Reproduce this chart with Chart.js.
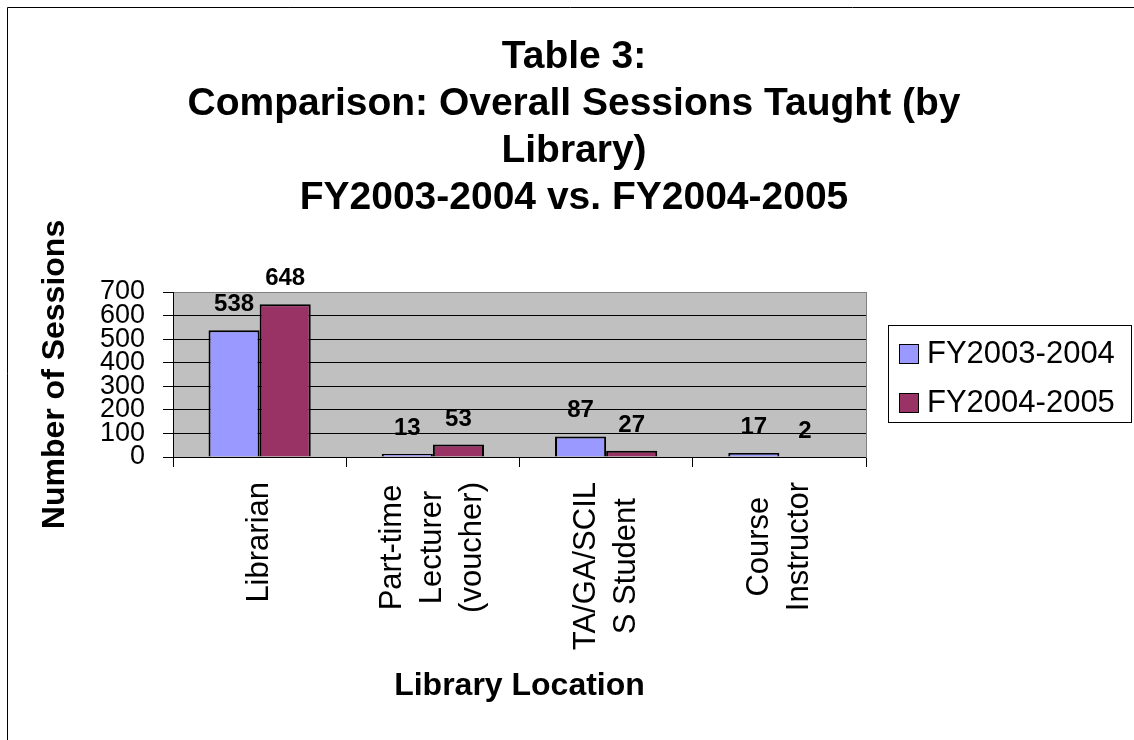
<!DOCTYPE html>
<html lang="en">
<head>
    <meta charset="UTF-8">
    <title>Table 3: Comparison: Overall Sessions Taught</title>
    <script src="https://cdn.jsdelivr.net/npm/chart.js@4.4.1/dist/chart.umd.min.js"></script>
    <style>
        body {
            margin: 0;
            background: #fff;
            font-family: "Liberation Sans", Arial, sans-serif;
        }
        #wrap {
            position: relative;
            width: 1134px;
            height: 740px;
        }
        #legend {
            position: absolute;
            left: 888px;
            top: 325px;
            width: 244px;
            height: 98px;
            box-sizing: border-box;
            border: 1px solid #000;
            padding: 7px 0 0 10px;
        }
        #legend .item {
            height: 40px;
            line-height: 40px;
            margin-bottom: 9px;
            font-size: 31px;
            color: #000;
            white-space: nowrap;
        }
        #legend .swatch {
            display: inline-block;
            width: 20px;
            height: 20px;
            box-sizing: border-box;
            border: 1px solid #000;
            margin-right: 8px;
            vertical-align: -1px;
        }
    </style>
</head>
<body>
<div id="wrap">
    <canvas id="chart" width="1134" height="740"></canvas>
    <div id="legend"></div>
</div>

<script>
    // chart data
    const categories = [
        ['Librarian'],
        ['Part-time', 'Lecturer', '(voucher)'],
        ['TA/GA/SCIL', 'S Student'],
        ['Course', 'Instructor']
    ];
    const seriesNames = ['FY2003-2004', 'FY2004-2005'];
    const fy2003 = [538, 13, 87, 17];
    const fy2004 = [648, 53, 27, 2];
    const seriesColors = ['#9999ff', '#993366'];
    const yTicks = [0, 100, 200, 300, 400, 500, 600, 700];
    const titleLines = ['Table 3:', 'Comparison: Overall Sessions Taught (by', 'Library)', 'FY2003-2004 vs. FY2004-2005'];

    const FONT = '"Liberation Sans", Arial, sans-serif';
    Chart.defaults.font.family = FONT;
    Chart.defaults.color = '#000';

    // grey plot background + outer frame
    const backgroundPlugin = {
        id: 'plotBackground',
        beforeDraw(chart) {
            const {ctx, chartArea} = chart;
            ctx.save();
            ctx.fillStyle = '#c0c0c0';
            ctx.fillRect(chartArea.left, chartArea.top, chartArea.right - chartArea.left, chartArea.bottom - chartArea.top);
            ctx.strokeStyle = '#000';
            ctx.lineWidth = 1;
            ctx.beginPath();
            ctx.moveTo(7.5, chart.height);
            ctx.lineTo(7.5, 7.5);
            ctx.lineTo(chart.width, 7.5);
            ctx.stroke();
            ctx.restore();
        }
    };

    // value labels above each bar
    const valueLabelPlugin = {
        id: 'valueLabels',
        afterDatasetsDraw(chart) {
            const {ctx} = chart;
            ctx.save();
            ctx.font = 'bold 24px ' + FONT;
            ctx.fillStyle = '#000';
            ctx.textAlign = 'center';
            ctx.textBaseline = 'alphabetic';
            chart.data.datasets.forEach((ds, i) => {
                const meta = chart.getDatasetMeta(i);
                meta.data.forEach((bar, j) => {
                    ctx.fillText(String(ds.data[j]), bar.x, bar.y - 19);
                });
            });
            ctx.restore();
        }
    };

    // rotated category labels, lines centred on each other like the original
    const categoryLabelPlugin = {
        id: 'categoryLabels',
        afterDraw(chart) {
            const {ctx} = chart;
            const xScale = chart.scales.x;
            const lineH = 40;
            ctx.save();
            ctx.font = '31px ' + FONT;
            ctx.fillStyle = '#000';
            ctx.textAlign = 'center';
            ctx.textBaseline = 'middle';
            chart.data.labels.forEach((lines, i) => {
                const cx = xScale.getPixelForValue(i);
                const maxW = Math.max(...lines.map(l => ctx.measureText(l).width));
                const cy = xScale.top + 25 + maxW / 2;
                ctx.save();
                ctx.translate(cx, cy);
                ctx.rotate(-Math.PI / 2);
                lines.forEach((line, k) => {
                    ctx.fillText(line, 0, (k - (lines.length - 1) / 2) * lineH);
                });
                ctx.restore();
            });
            ctx.restore();
        }
    };

    const ctx = document.getElementById('chart').getContext('2d');
    const chart = new Chart(ctx, {
        type: 'bar',
        data: {
            labels: categories,
            datasets: [
                {
                    label: seriesNames[0],
                    data: fy2003,
                    backgroundColor: seriesColors[0],
                    borderColor: '#000',
                    borderWidth: 2
                },
                {
                    label: seriesNames[1],
                    data: fy2004,
                    backgroundColor: seriesColors[1],
                    borderColor: '#000',
                    borderWidth: 2
                }
            ]
        },
        options: {
            responsive: false,
            animation: false,
            devicePixelRatio: 1,
            layout: {
                padding: {left: 14, right: 0, top: 0, bottom: 0}
            },
            datasets: {
                bar: {
                    categoryPercentage: 0.59,
                    barPercentage: 1
                }
            },
            scales: {
                x: {
                    grid: {
                        drawOnChartArea: false,
                        color: '#000',
                        tickLength: 10
                    },
                    border: {color: '#000', width: 1},
                    ticks: {display: false},
                    title: {
                        display: true,
                        text: 'Library Location',
                        font: {size: 32, weight: 'bold'},
                        padding: {top: 0, bottom: 35}
                    },
                    afterFit(scale) {
                        scale.height = 283;
                    }
                },
                y: {
                    min: yTicks[0],
                    max: yTicks[yTicks.length - 1],
                    afterBuildTicks(scale) {
                        scale.ticks = yTicks.map(v => ({value: v}));
                    },
                    grid: {
                        color: c => (c.tick && c.tick.value === 700 ? '#808080' : '#000'),
                        tickColor: '#000',
                        tickLength: 10
                    },
                    border: {color: '#000', width: 1},
                    ticks: {
                        autoSkip: false,
                        padding: 18,
                        font: {size: 27}
                    },
                    title: {
                        display: true,
                        text: 'Number of Sessions',
                        font: {size: 32, weight: 'bold'},
                        padding: {top: 22, bottom: 0}
                    },
                    afterFit(scale) {
                        scale.width = 159;
                    }
                },
                // empty right-hand axis: keeps room for the legend and draws the plot's right edge
                side: {
                    type: 'linear',
                    position: 'right',
                    display: true,
                    grid: {display: false},
                    ticks: {display: false},
                    border: {display: true, color: '#808080', width: 1},
                    afterFit(scale) {
                        scale.width = 268;
                    }
                }
            },
            plugins: {
                legend: {display: false},
                tooltip: {enabled: false},
                title: {
                    display: true,
                    text: titleLines,
                    color: '#000',
                    font: {size: 39, weight: 'bold', lineHeight: 47 / 39},
                    padding: {top: 33.5, bottom: 70.5}
                }
            }
        },
        plugins: [backgroundPlugin, valueLabelPlugin, categoryLabelPlugin]
    });

    // legend built from the same series arrays
    const legend = document.getElementById('legend');
    seriesNames.forEach((name, i) => {
        const item = document.createElement('div');
        item.className = 'item';
        const sw = document.createElement('span');
        sw.className = 'swatch';
        sw.style.background = seriesColors[i];
        item.appendChild(sw);
        item.appendChild(document.createTextNode(name));
        legend.appendChild(item);
    });
</script>
</body>
</html>
